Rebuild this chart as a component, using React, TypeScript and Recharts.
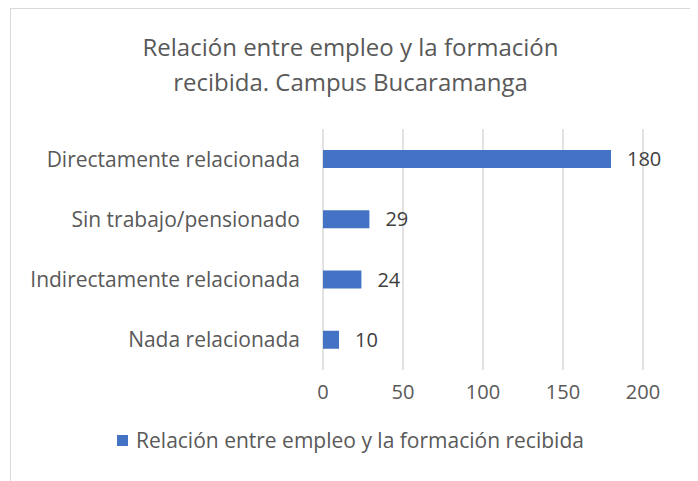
import { Bar, BarChart, CartesianGrid, LabelList, XAxis, YAxis } from "recharts";

// Data
const categories = [
  "Directamente relacionada",
  "Sin trabajo/pensionado",
  "Indirectamente relacionada",
  "Nada relacionada",
];
const values = [180, 29, 24, 10];
const xTicks = [0, 50, 100, 150, 200];
const seriesName = "Relación entre empleo y la formación recibida";
const titleLines = ["Relación entre empleo y la formación", "recibida. Campus Bucaramanga"];

const data = categories.map((name, i) => ({ name, value: values[i] }));

const FONT = "'Open Sans', 'Noto Sans', sans-serif";
const BLUE = "#4472C4";
const GREY = "#595959";

export default function App() {
  return (
    <div
      style={{
        position: "relative",
        marginLeft: 2,
        width: 679,
        height: 480,
        border: "1px solid #d9d9d9",
        background: "#fff",
        fontFamily: FONT,
      }}
    >
      <div
        style={{
          position: "absolute",
          top: 20,
          left: 0,
          width: "100%",
          textAlign: "center",
          fontSize: 24,
          lineHeight: "35px",
          color: GREY,
        }}
      >
        {titleLines.map((t) => (
          <div key={t}>{t}</div>
        ))}
      </div>
      <BarChart
        width={679}
        height={472}
        data={data}
        layout="vertical"
        margin={{ top: 120, right: 47, left: 0, bottom: 0 }}
      >
        <CartesianGrid horizontal={false} stroke="#d9d9d9" strokeWidth={1.5} />
        <XAxis
          type="number"
          domain={[0, 200]}
          ticks={xTicks}
          axisLine={false}
          tickLine={false}
          height={111}
          tickMargin={9}
          tick={{ fontSize: 20, fill: GREY, fontFamily: FONT }}
        />
        <YAxis
          type="category"
          dataKey="name"
          width={312}
          axisLine={false}
          tickLine={false}
          tickMargin={17}
          tick={{ fontSize: 21, fill: GREY, fontFamily: FONT }}
        />
        <Bar dataKey="value" name={seriesName} fill={BLUE} barSize={18} isAnimationActive={false}>
          <LabelList
            dataKey="value"
            position="right"
            offset={16}
            style={{ fontSize: 20, fill: "#404040", fontFamily: FONT }}
          />
        </Bar>
      </BarChart>
      <div
        style={{
          position: "absolute",
          top: 417,
          left: 0,
          width: "100%",
          display: "flex",
          justifyContent: "center",
          alignItems: "center",
          fontSize: 21,
          color: GREY,
        }}
      >
        <span style={{ width: 11, height: 11, background: BLUE, marginRight: 8, display: "inline-block" }} />
        <span>{seriesName}</span>
      </div>
    </div>
  );
}
